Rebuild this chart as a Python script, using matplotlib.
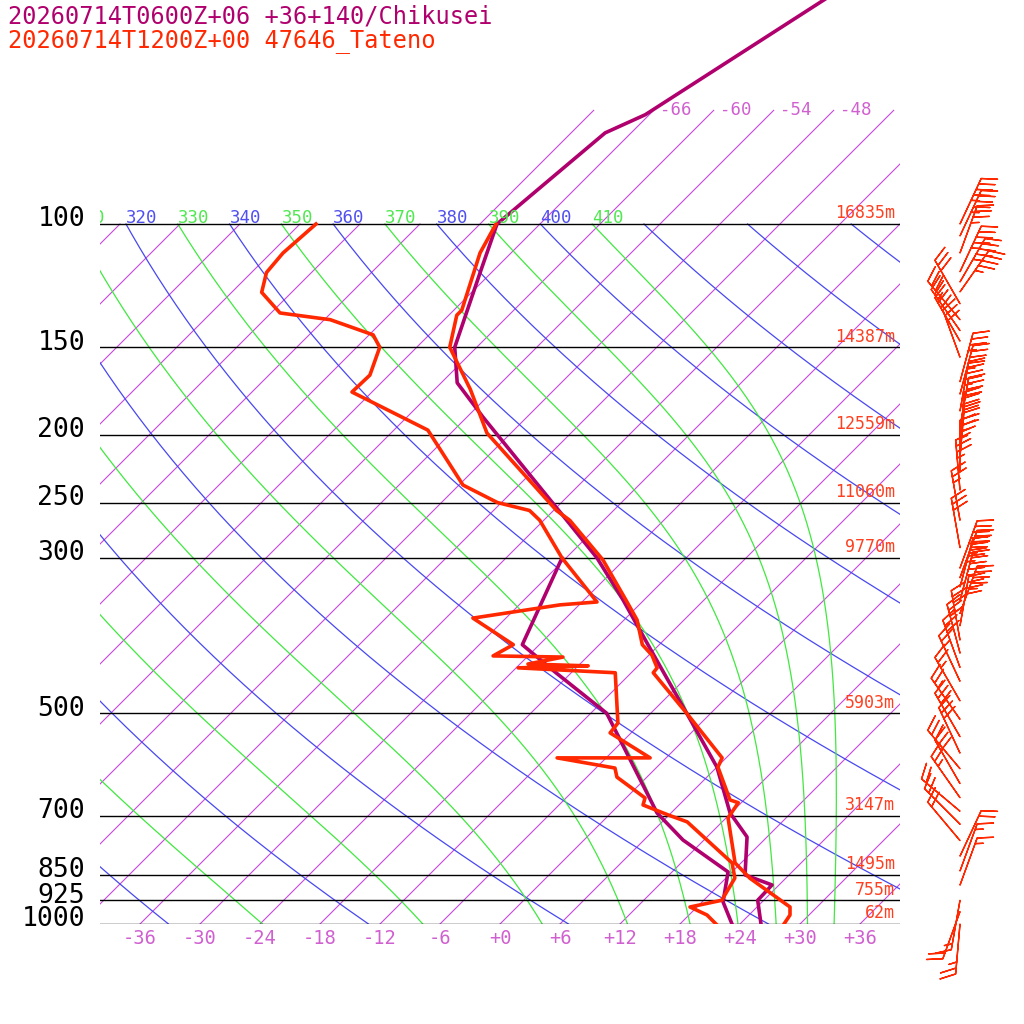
import numpy as np
import matplotlib
matplotlib.use("Agg")
import matplotlib.pyplot as plt

plt.rcParams['font.family'] = ['DejaVu Sans Mono']

TITLE1 = "20260714T0600Z+06 +36+140/Chikusei"
TITLE2 = "20260714T1200Z+00 47646_Tateno"

# Chikusei (model) temperature / dewpoint  [hPa, degC]
chk_p = [44, 69.8, 74.1, 100, 117.5, 150, 168.6, 188.7, 265, 300, 344.4, 410.4, 500, 596.8, 694, 751, 851, 879.5, 925, 1000]
chk_t = [-58.6, -66.4, -68.6, -70.3, -67.1, -62.2, -58.4, -52.4, -33.7, -26.9, -20.1, -11.8, -2.4, 6.0, 11.9, 16.0, 19.6, 23.3, 23.4, 26.1]
chk_dp_p = [300, 399, 436.5, 500, 694, 758.6, 842.6, 930, 1000]
chk_dp = [-30.4, -25.7, -19.7, -10.4, 4.6, 9.9, 17.6, 20.1, 23.2]

# Tateno observed temperature / dewpoint
tat_p = [100, 110, 132.8, 135, 150, 172.4, 198.9, 256.6, 265, 302, 346.7, 367.8, 399, 412.9, 430.6, 437.6,
         500, 579, 596.8, 665, 671, 705.5, 818, 860, 945.6, 970.8, 1000]
tat_t = [-70.4, -69.1, -65.2, -65.2, -62.7, -56.4, -50.4, -35.7, -33.4, -26.1, -19.5, -16.7, -13.7, -11.7, -9.9, -9.8,
         -2.4, 5.6, 6.1, 10.6, 11.7, 12.2, 17.4, 20.4, 27.3, 28.1, 28.4]
tat_dp_p = [100, 110, 117.3, 125.2, 134, 137, 144, 150, 164.4, 173.8, 197, 236, 250, 256.6, 265, 300, 346.7, 350,
            365.6, 399, 414, 415.6, 425.2, 427.8, 430.6, 437.6, 516.4, 533.3, 579, 579, 598.7, 616.8, 660.6, 676,
            698.5, 714.6, 818, 860, 925, 945.6, 970.8, 1000]
tat_dp = [-88.4, -88.8, -88.5, -87.0, -83.1, -77.4, -71.6, -69.7, -67.9, -68.0, -56.6, -47.6, -42.4, -38.4, -36.4,
          -30.4, -22.5, -25.9, -33.3, -26.6, -27.5, -20.4, -23.2, -17.0, -23.8, -13.6, -8.3, -8.1, -1.6, -10.9,
          -4.1, -3.0, 1.9, 2.4, 5.9, 8.5, 17.1, 18.9, 19.8, 17.3, 19.8, 21.6]

# Tateno winds: pressure, direction (deg), speed (kt)
wind_p = [100, 104, 110, 117, 121, 125, 130, 137, 142, 147, 155, 168, 175, 185, 195, 205, 215, 225, 240, 265, 290,
          310, 320, 330, 345, 360, 375, 393, 410, 430, 450, 480, 510, 540, 570, 600, 630, 660, 690, 720, 760, 800,
          840, 880, 925, 960, 1000]
wind_dir = [25, 25, 20, 25, 30, 35, 330, 320, 325, 330, 340, 15, 15, 10, 10, 5, 5, 0, 355, 350, 350,
            20, 20, 15, 15, 20, 10, 350, 345, 340, 335, 330, 325, 330, 335, 320, 330, 325, 310, 315, 320, 25,
            20, 20, 190, 200, 185]
wind_spd = [45, 45, 35, 45, 45, 45, 30, 30, 25, 30, 30, 35, 45, 45, 40, 40, 45, 35, 35, 25, 30,
            45, 45, 45, 45, 45, 40, 30, 30, 30, 25, 25, 25, 30, 30, 30, 30, 25, 20, 20, 20, 20,
            15, 15, 15, 20, 25]

std_p = [100, 150, 200, 250, 300, 500, 700, 850, 925, 1000]
std_z = ["16835m", "14387m", "12559m", "11060m", "9770m", "5903m", "3147m", "1495m", "755m", "62m"]

SKEW = 70.0
P_TOP = 1000 * 10 ** (-924 / 700)


def skx(t, p):
    return np.asarray(t) + SKEW * np.log10(1000.0 / np.asarray(p))


def moist_adiabat(theta, p):
    # integrate pseudo-adiabat downward from 100 hPa
    t = theta * (0.1) ** 0.2857
    out = [t]
    for i in range(1, len(p)):
        p0, p1 = p[i - 1], p[i]
        tc = t - 273.15
        es = 6.112 * np.exp(17.67 * tc / (tc + 243.5))
        rs = 0.622 * es / (p0 - es)
        dtdp = (287.0 * t + 2.5e6 * rs) / (p0 * (1004.0 + 2.5e6 ** 2 * rs * 0.622 / (287.0 * t * t)))
        t = t + dtdp * (p1 - p0)
        out.append(t)
    return np.array(out) - 273.15


fig = plt.figure(figsize=(10.24, 10.24), dpi=100)
ax = fig.add_axes([100 / 1024, 100 / 1024, 800 / 1024, 924 / 1024])
ax.set_yscale('log')
ax.set_ylim(1000, P_TOP)
ax.set_xlim(-40, 40)
ax.set_axis_off()

# isotherms (only the warmer ones continue above 100 hPa)
for t in range(-120, 40, 6):
    top = 68.8 if t >= -72 else 100
    p_iso = np.array([1000, top])
    ax.plot(skx([t, t], p_iso), p_iso, color='#c848e0', lw=0.8)
for t in [-66, -60, -54, -48]:
    ax.text(skx(t, 68.8) + 0.6, 68.8, "%d" % t, color='#d060d0', fontsize=12.5, va='center', ha='left')

pp = np.logspace(3, 2, 200)
# dry adiabats
for th in range(240, 500, 20):
    tt = th * (pp / 1000.0) ** 0.2857 - 273.15
    ax.plot(skx(tt, pp), pp, color='#4848f0', lw=0.9)
    if 320 <= th <= 400:
        ax.text(skx(tt[-1], 100), 101, str(th), color='#5050f0', fontsize=12.5, va='bottom', ha='left')
# moist adiabats
pm = pp[::-1]
for th in range(250, 430, 20):
    tm = moist_adiabat(th, pm)
    ax.plot(skx(tm, pm), pm, color='#40e840', lw=0.9)
    if th >= 310:
        ax.text(skx(tm[0], 100), 101, str(th), color='#50e850', fontsize=12.5, va='bottom', ha='left', clip_on=True)

# standard levels
for p, z in zip(std_p, std_z):
    ax.plot([-40, 40], [p, p], color='black', lw=1.0)
    ax.text(-41.5, p * 0.985, str(p), color='black', fontsize=19, ha='right', va='center', clip_on=False)
    ax.text(39.5, p * 0.995, z, color='#ff4020', fontsize=12, ha='right', va='bottom')

for t in range(-36, 37, 6):
    lab = ("+%d" % t) if t >= 0 else "%d" % t
    ax.text(t, 1000 * 1.015, lab, color='#d060d0', fontsize=13.5, ha='center', va='top', clip_on=False)

purple = '#b0006e'
red = '#ff2800'
ax.plot(skx(chk_t, chk_p), chk_p, color=purple, lw=2.6)
ax.plot(skx(chk_dp, chk_dp_p), chk_dp_p, color=purple, lw=2.6)
ax.plot(skx(tat_t, tat_p), tat_p, color=red, lw=2.6)
ax.plot(skx(tat_dp, tat_dp_p), tat_dp_p, color=red, lw=2.6)

# winds
d = np.radians(wind_dir)
u = -np.array(wind_spd) * np.sin(d)
v = -np.array(wind_spd) * np.cos(d)
ax.barbs(np.full(len(wind_p), 46.0), wind_p, u, v, color=red, length=8.5, lw=1.0,
         sizes=dict(emptybarb=0, spacing=0.12, height=0.3), clip_on=False)

fig.text(8 / 1024, 1 - 17 / 1024, TITLE1, color=purple, fontsize=17, va='center', ha='left')
fig.text(8 / 1024, 1 - 41 / 1024, TITLE2, color=red, fontsize=17, va='center', ha='left')

fig.savefig('out.png', dpi=100)
